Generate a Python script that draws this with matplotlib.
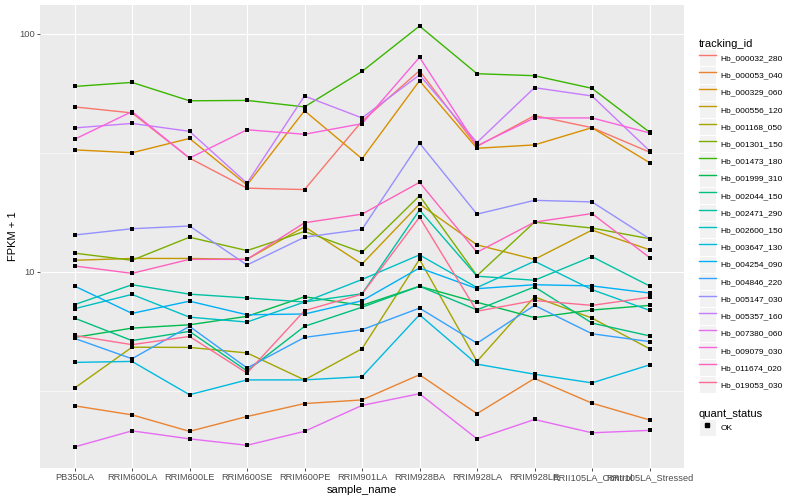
import matplotlib.pyplot as plt
import numpy as np
from matplotlib.lines import Line2D
from matplotlib.patches import Patch
from matplotlib.legend_handler import HandlerTuple
from matplotlib.ticker import FixedLocator, NullFormatter

plt.rcParams['font.family'] = ['Liberation Sans', 'DejaVu Sans']

samples = ['PB350LA', 'RRIM600LA', 'RRIM600LE', 'RRIM600SE', 'RRIM600PE',
           'RRIM901LA', 'RRIM928BA', 'RRIM928LA', 'RRIM928LE',
           'RRII105LA_Control', 'RRII105LA_Stressed']

tracking_ids = ['Hb_000032_280', 'Hb_000053_040', 'Hb_000329_060', 'Hb_000556_120',
                'Hb_001168_050', 'Hb_001301_150', 'Hb_001473_180', 'Hb_001999_310',
                'Hb_002044_150', 'Hb_002471_290', 'Hb_002600_150', 'Hb_003647_130',
                'Hb_004254_090', 'Hb_004846_220', 'Hb_005147_030', 'Hb_005357_160',
                'Hb_007380_060', 'Hb_009079_030', 'Hb_011674_020', 'Hb_019053_030']

# ggplot hue palette, 20 levels
colours = ['#F8766D', '#EA8331', '#D89000', '#C09B00', '#A3A500', '#7CAE00',
           '#39B600', '#00BB4E', '#00BF7D', '#00C1A3', '#00BFC4', '#00BAE0',
           '#00B0F6', '#35A2FF', '#9590FF', '#C77CFF', '#E76BF3', '#FA62DB',
           '#FF62BC', '#FF6C91']

# FPKM + 1, one row per tracking_id, columns follow samples
fpkm = [
    [49.4, 46.6, 30.1, 22.5, 22.2, 43.0, 70.1, 33.7, 45.4, 40.4, 31.9],
    [2.74, 2.51, 2.14, 2.47, 2.80, 2.90, 3.70, 2.54, 3.57, 2.81, 2.39],
    [32.6, 31.7, 36.4, 23.2, 47.6, 29.9, 63.6, 33.1, 34.2, 40.4, 28.8],
    [11.2, 11.4, 11.4, 11.3, 15.5, 10.8, 19.3, 13.0, 11.3, 15.0, 12.4],
    [3.25, 4.83, 4.82, 4.57, 3.52, 4.76, 11.3, 4.21, 7.86, 6.40, 4.76],
    [12.0, 11.2, 14.0, 12.3, 14.8, 12.1, 20.9, 9.65, 16.2, 15.3, 13.8],
    [60.2, 62.6, 52.4, 52.6, 49.4, 69.6, 108.0, 68.1, 66.8, 59.1, 38.7],
    [5.31, 5.81, 6.00, 6.51, 7.87, 7.24, 8.71, 7.46, 6.43, 6.92, 7.24],
    [6.40, 5.15, 5.63, 3.84, 5.91, 7.11, 8.71, 6.93, 8.66, 6.10, 5.39],
    [7.29, 8.84, 8.07, 7.78, 7.48, 8.10, 18.2, 9.60, 9.23, 11.6, 8.74],
    [7.01, 8.05, 6.46, 6.16, 7.48, 9.30, 11.8, 8.60, 11.1, 8.43, 6.90],
    [4.17, 4.21, 3.05, 3.52, 3.52, 3.63, 6.61, 4.10, 3.72, 3.42, 4.07],
    [8.73, 6.70, 7.54, 6.61, 6.66, 7.57, 10.4, 8.51, 8.84, 8.74, 8.16],
    [5.26, 4.32, 5.91, 3.95, 5.31, 5.72, 7.05, 5.02, 7.24, 5.50, 5.10],
    [14.3, 15.2, 15.6, 10.7, 14.0, 15.1, 34.8, 17.5, 20.0, 19.7, 13.8],
    [40.3, 42.1, 39.0, 23.6, 54.9, 44.4, 67.3, 35.0, 59.5, 54.9, 32.3],
    [1.84, 2.15, 1.99, 1.87, 2.14, 2.75, 3.08, 1.99, 2.40, 2.11, 2.16],
    [36.1, 47.2, 30.1, 39.6, 37.9, 42.0, 79.8, 33.9, 44.4, 44.4, 38.4],
    [10.6, 9.87, 11.3, 11.3, 16.1, 17.5, 23.8, 12.1, 16.2, 17.6, 11.5],
    [5.41, 4.95, 5.36, 3.76, 6.88, 8.07, 17.0, 6.84, 7.59, 7.24, 7.83],
]

fig = plt.figure(figsize=(8, 5), dpi=100)
ax = fig.add_axes([0.05, 0.064, 0.805, 0.926])
ax.set_facecolor('#EBEBEB')
for s in ax.spines.values():
    s.set_visible(False)

x = np.arange(len(samples))
for col, vals in zip(colours, fpkm):
    ax.plot(x, vals, color=col, lw=1.0, zorder=2)
for vals in fpkm:
    ax.scatter(x, vals, marker='s', s=9, color='black', linewidths=0, zorder=3)

ax.set_yscale('log')
lo = np.log10(np.min(fpkm))
hi = np.log10(np.max(fpkm))
pad = 0.05 * (hi - lo)
ax.set_ylim(10 ** (lo - pad), 10 ** (hi + pad))
ax.set_xlim(-0.6, len(samples) - 1 + 0.6)

ax.set_xticks(x, samples)
ax.set_yticks([10, 100], ['10', '100'])
ax.yaxis.set_minor_locator(FixedLocator([10 ** 0.5, 10 ** 1.5]))
ax.yaxis.set_minor_formatter(NullFormatter())
ax.tick_params(which='major', length=2.2, width=0.6, color='#333333',
               labelcolor='#4D4D4D', labelsize=6.7, pad=1.5)
ax.tick_params(which='minor', length=0)
ax.grid(which='major', color='white', lw=0.8)
ax.grid(which='minor', axis='y', color='white', lw=0.4)
ax.set_axisbelow(True)

ax.set_xlabel('sample_name', fontsize=8, labelpad=2)
ax.set_ylabel('FPKM + 1', fontsize=8, labelpad=1)

key_bg = dict(facecolor='#F2F2F2', edgecolor='white', lw=0.8)
handles = [(Patch(**key_bg), Line2D([], [], color=c, lw=1.0)) for c in colours]
leg1 = fig.legend(handles, tracking_ids, title='tracking_id',
                  handler_map={tuple: HandlerTuple(ndivide=1)},
                  loc='upper left', bbox_to_anchor=(0.868, 0.93),
                  frameon=False, fontsize=6.0, title_fontsize=8,
                  alignment='left', borderpad=0, labelspacing=0.0,
                  handlelength=2.1, handleheight=2.8, handletextpad=0.5)

ok_handle = (Patch(**key_bg), Line2D([], [], marker='s', ms=3, color='black', ls='none'))
leg2 = fig.legend([ok_handle], ['OK'], title='quant_status',
                  handler_map={tuple: HandlerTuple(ndivide=1)},
                  loc='upper left', bbox_to_anchor=(0.868, 0.19),
                  frameon=False, fontsize=6.0, title_fontsize=8,
                  alignment='left', borderpad=0, labelspacing=0,
                  handlelength=2.1, handleheight=2.8, handletextpad=0.5)

fig.savefig('out.png', dpi=100)
